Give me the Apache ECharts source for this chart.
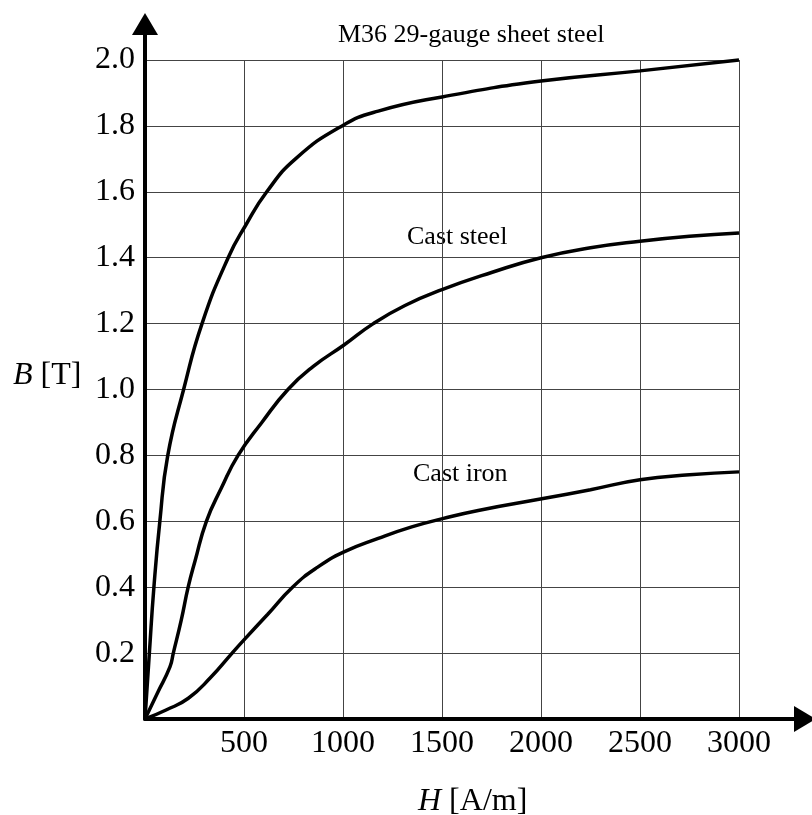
<!DOCTYPE html>
<html>
<head>
<meta charset="utf-8">
<title>B-H curves</title>
<script src="https://cdn.jsdelivr.net/npm/echarts/dist/echarts.min.js"></script>
<style>
html, body { margin: 0; padding: 0; background: #fff; }
#chart { width: 812px; height: 815px; }
</style>
</head>
<body>
<div id="chart"></div>
<script>
// magnetization curves
const m36H = [0, 22, 45, 75, 115, 195, 288, 420, 510, 615, 760, 995, 1178, 1500, 2000, 2500, 3000];
const m36B = [0, 0.2, 0.4, 0.6, 0.8, 1.0, 1.2, 1.4, 1.5, 1.6, 1.7, 1.8, 1.845, 1.888, 1.936, 1.967, 2.0];
const steelH = [0, 63, 126, 143, 183, 218, 253, 310, 385, 470, 590, 722, 850, 1005, 1153, 1313, 1500, 1750, 2000, 2250, 2500, 2750, 3000];
const steelB = [0, 0.079, 0.158, 0.2, 0.3, 0.4, 0.48, 0.6, 0.7, 0.8, 0.9, 1.0, 1.07, 1.135, 1.2, 1.255, 1.303, 1.355, 1.4, 1.43, 1.45, 1.465, 1.475];
const ironH = [0, 109, 219, 330, 440, 500, 620, 745, 870, 1005, 1178, 1347, 1503, 1683, 2011, 2250, 2500, 2750, 3000];
const ironB = [0, 0.028, 0.063, 0.125, 0.2, 0.24, 0.318, 0.4, 0.46, 0.507, 0.548, 0.583, 0.608, 0.633, 0.669, 0.696, 0.726, 0.741, 0.75];

const hTicks = [500, 1000, 1500, 2000, 2500, 3000];
const bTicks = [0.2, 0.4, 0.6, 0.8, 1.0, 1.2, 1.4, 1.6, 1.8, 2.0];

const serif = 'Liberation Serif';
const zip = (h, b) => h.map((v, i) => [v, b[i]]);

const curve = (data) => ({
  type: 'line',
  xAxisIndex: 0,
  yAxisIndex: 0,
  data: data,
  showSymbol: false,
  smooth: 0.5,
  clip: false,
  lineStyle: { color: '#000', width: 3.5 },
  silent: true
});

const chart = echarts.init(document.getElementById('chart'));
chart.setOption({
  animation: false,
  backgroundColor: '#fff',
  grid: [
    { left: 145, right: 73, top: 60, bottom: 96, outerBoundsMode: 'none' },
    { left: 145, right: 7, top: 24, bottom: 96, outerBoundsMode: 'none' }
  ],
  xAxis: [
    {
      type: 'value', gridIndex: 0, min: 0, max: 3000, interval: 500,
      axisLine: { show: false },
      axisTick: { show: false },
      splitLine: { show: true, lineStyle: { color: '#444', width: 1 } },
      axisLabel: {
        margin: 9, color: '#000', fontFamily: serif, fontSize: 32,
        showMinLabel: false,
        formatter: (v) => (hTicks.includes(v) ? String(v) : '')
      }
    },
    {
      type: 'value', gridIndex: 1, min: 0, max: 1,
      axisLine: { show: true, symbol: ['none', 'triangle'], symbolSize: [26, 22], lineStyle: { color: '#000', width: 4 } },
      axisTick: { show: false }, axisLabel: { show: false }, splitLine: { show: false }
    }
  ],
  yAxis: [
    {
      type: 'value', gridIndex: 0, min: 0, max: 2.0, interval: 0.2,
      axisLine: { show: false },
      axisTick: { show: false },
      splitLine: { show: true, lineStyle: { color: '#444', width: 1 } },
      axisLabel: {
        margin: 10, color: '#000', fontFamily: serif, fontSize: 32,
        showMinLabel: false,
        formatter: (v) => {
          const t = bTicks.find((b) => Math.abs(b - v) < 1e-6);
          return t === undefined ? '' : t.toFixed(1);
        }
      }
    },
    {
      type: 'value', gridIndex: 1, min: 0, max: 1,
      axisLine: { show: true, symbol: ['none', 'triangle'], symbolSize: [26, 22], lineStyle: { color: '#000', width: 4 } },
      axisTick: { show: false }, axisLabel: { show: false }, splitLine: { show: false }
    }
  ],
  graphic: [
    { type: 'text', x: 338, y: 35, silent: true,
      style: { text: 'M36 29-gauge sheet steel', fill: '#000', fontFamily: serif, fontSize: 26, align: 'left', verticalAlign: 'middle' } },
    { type: 'text', x: 407, y: 237, silent: true,
      style: { text: 'Cast steel', fill: '#000', fontFamily: serif, fontSize: 26, align: 'left', verticalAlign: 'middle' } },
    { type: 'text', x: 413, y: 474, silent: true,
      style: { text: 'Cast iron', fill: '#000', fontFamily: serif, fontSize: 26, align: 'left', verticalAlign: 'middle' } },
    { type: 'text', x: 13, y: 376, silent: true,
      style: {
        text: '{i|B} [T]', fill: '#000', fontFamily: serif, fontSize: 32, align: 'left', verticalAlign: 'middle',
        rich: { i: { fontFamily: serif, fontSize: 32, fontStyle: 'italic', fill: '#000' } }
      } },
    { type: 'text', x: 418, y: 802, silent: true,
      style: {
        text: '{i|H} [A/m]', fill: '#000', fontFamily: serif, fontSize: 32, align: 'left', verticalAlign: 'middle',
        rich: { i: { fontFamily: serif, fontSize: 32, fontStyle: 'italic', fill: '#000' } }
      } }
  ],
  series: [
    curve(zip(m36H, m36B)),
    curve(zip(steelH, steelB)),
    curve(zip(ironH, ironB))
  ]
});
</script>
</body>
</html>
